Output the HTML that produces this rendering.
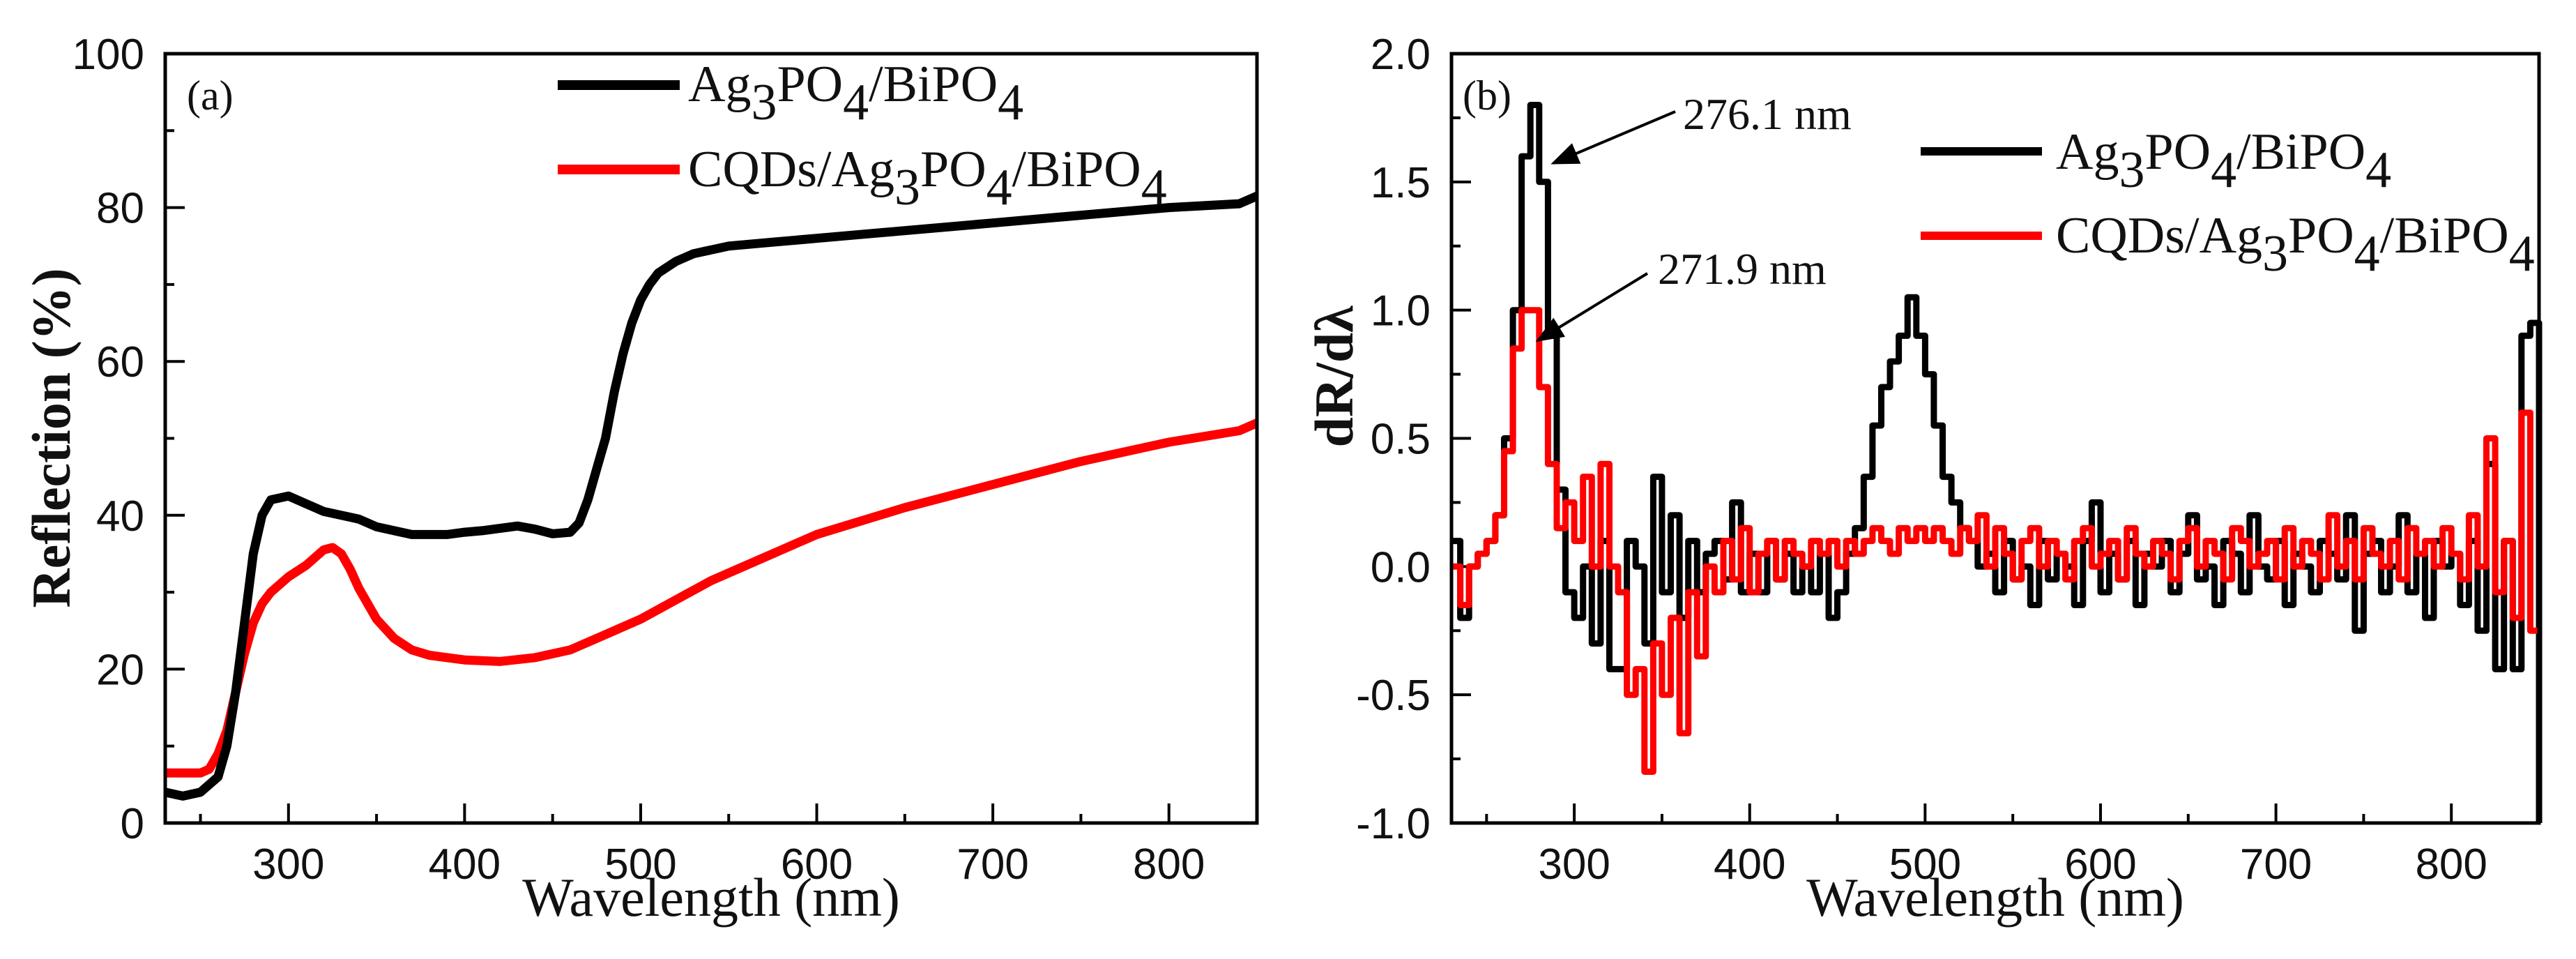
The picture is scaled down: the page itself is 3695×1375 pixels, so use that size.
<!DOCTYPE html>
<html><head><meta charset="utf-8"><style>
html,body{margin:0;padding:0;background:#fff;}
svg{display:block;}
.tick{font-family:"Liberation Sans",Arial,sans-serif;font-size:62px;fill:#111;}
.serif{font-family:"Liberation Serif","Times New Roman",serif;fill:#111;}
</style></head><body>
<svg id="fig" width="3695" height="1375" viewBox="0 0 3695 1375" xmlns="http://www.w3.org/2000/svg">
<g id="pa"></g>
<g id="pb"></g>
</svg>
<script>
// Panel (a) data
const aWl = [230,240,250,260,265,270,275,280,285,290,300,310,320,330,340,350,360,370,380,390,400,410,420,430,440,450,460,465,470,475,480,485,490,495,500,505,510,520,530,540,550,575,600,650,700,750,800,840,850];
const aBlack = [4,3.5,4,6,10,17,26,35,40,42,42.5,41.5,40.5,40,39.5,38.5,38,37.5,37.5,37.5,37.8,38,38.3,38.6,38.2,37.6,37.8,39,42,46,50,56,61,65,68,70,71.5,73,74,74.5,75,75.5,76,77,78,79,80,80.5,81.5];
const aRedWl = [230,250,255,260,265,270,275,280,285,290,300,310,320,325,330,335,340,350,360,370,380,400,420,440,460,480,500,520,540,560,580,600,650,700,750,800,840,850];
const aRed = [6.5,6.5,7,9,12,17,22,26,28.5,30,32,33.5,35.5,35.8,35,33,30.5,26.5,24,22.5,21.8,21.2,21,21.5,22.5,24.5,26.5,29,31.5,33.5,35.5,37.5,41,44,47,49.5,51,52];
const aYTicks = [0,20,40,60,80,100];
const xTicks = [300,400,500,600,700,800];

// Panel (b) data (5 nm steps from 230 to 850)
const bBlack = [0.1,-0.2,0,0.05,0.1,0.2,0.5,1.0,1.6,1.8,1.5,0.9,0.3,-0.1,-0.2,0.0,-0.3,0.1,-0.4,-0.4,0.1,0.0,-0.3,0.35,-0.1,0.2,-0.2,0.1,-0.1,0.05,0.1,-0.05,0.25,-0.1,0.05,-0.1,0.1,-0.05,0.05,-0.1,0.0,-0.1,0.05,-0.2,-0.1,0.05,0.15,0.35,0.55,0.7,0.8,0.9,1.05,0.9,0.75,0.55,0.35,0.25,0.15,0.1,0.0,0.05,-0.1,0.1,-0.05,0.0,-0.15,0.1,-0.05,0.05,0.0,-0.15,0.1,0.25,-0.1,0.05,-0.05,0.1,-0.15,0.05,0.0,0.1,-0.1,0.05,0.2,-0.05,0.0,-0.15,0.1,0.05,-0.1,0.2,0.0,-0.05,0.1,-0.15,0.05,0.0,-0.1,0.1,0.05,-0.05,0.2,-0.25,0.05,0.1,-0.1,0.0,0.2,-0.1,0.05,-0.2,0.1,0.0,0.05,-0.15,0.1,-0.25,0.4,-0.4,0.1,-0.4,0.9,0.95,-1.0];
const bRed = [0,-0.15,0,0.05,0.1,0.2,0.45,0.85,1.0,1.0,0.7,0.4,0.15,0.25,0.1,0.35,0.0,0.4,0.0,-0.1,-0.5,-0.4,-0.8,-0.3,-0.5,-0.2,-0.65,-0.1,-0.35,0.0,-0.1,0.1,-0.05,0.15,-0.1,0.05,0.1,-0.05,0.1,0.05,0.0,0.1,0.05,0.1,0.0,0.1,0.05,0.1,0.15,0.1,0.05,0.15,0.1,0.15,0.1,0.15,0.1,0.05,0.15,0.1,0.2,0.0,0.15,0.05,-0.05,0.1,0.15,0.0,0.1,0.05,-0.05,0.1,0.15,0.0,0.05,0.1,-0.05,0.15,0.05,0.0,0.1,0.05,-0.05,0.1,0.15,0.0,0.1,0.05,-0.05,0.15,0.1,0.0,0.05,0.1,-0.05,0.15,0.0,0.1,0.05,-0.05,0.2,0.0,0.1,-0.05,0.15,0.05,0.0,0.1,-0.05,0.15,0.05,0.1,0.0,0.15,0.05,-0.05,0.2,0.0,0.5,-0.1,0.1,-0.2,0.6,-0.25];
const bYTicks = [-1.0,-0.5,0.0,0.5,1.0,1.5,2.0];
const bStart = 230, bStep = 5;

const NS = "http://www.w3.org/2000/svg";
function mk(parent, tag, attrs){const e=document.createElementNS(NS,tag);for(const k in attrs)e.setAttribute(k,attrs[k]);parent.appendChild(e);return e;}

function axes(g, box, xmin, xmax, ymin, ymax, yTicks, yMinor, yFmt){
  const X=v=>box.l+(v-xmin)/(xmax-xmin)*(box.r-box.l);
  const Y=v=>box.b-(v-ymin)/(ymax-ymin)*(box.b-box.t);
  for(let v=250; v<=850; v+=50){
    const major = v%100===0;
    const t=mk(g,'line',{x1:X(v),x2:X(v),y1:box.b,y2:box.b-(major?28:13),stroke:'#000','stroke-width':4});
    
    
  }
  xTicks.forEach(v=>{
    const t=mk(g,'text',{x:X(v),y:1260,'text-anchor':'middle',class:'tick'});t.textContent=v;
    
    
  });
  for(let v=ymin; v<=ymax+1e-9; v+=yMinor){
    const major = yTicks.some(t=>Math.abs(t-v)<1e-6);
    const t=mk(g,'line',{x1:box.l,x2:box.l+(major?28:13),y1:Y(v),y2:Y(v),stroke:'#000','stroke-width':4});
    
    
  }
  yTicks.forEach(v=>{
    const t=mk(g,'text',{x:box.l-30,y:Y(v)+22,'text-anchor':'end',class:'tick'});t.textContent=yFmt(v);
    
    
  });
  return {X,Y};
}
function frame(g, box){
  const r=mk(g,'rect',{x:box.l,y:box.t,width:box.r-box.l,height:box.b-box.t,fill:'none',stroke:'#000','stroke-width':5});
  
  
}
function line(g, pts, color, w, name){
  const p=mk(g,'polyline',{points:pts.map(q=>q[0].toFixed(1)+','+q[1].toFixed(1)).join(' '),fill:'none',stroke:color,'stroke-width':w,'stroke-linejoin':'round'});
  
  
}
function legendText(g, x, y, parts, name){
  const t=mk(g,'text',{x:x,y:y,class:'serif','font-size':74});
  
  
  parts.forEach(p=>{
    const s=mk(t,'tspan',{});
    if(p[1]){s.setAttribute('dy','26');}
    else if(p[2]){s.setAttribute('dy','-26');}
    s.textContent=p[0];
  });
}
const PART_A=[['Ag'],['3',1],['PO',0,1],['4',1],['/BiPO',0,1],['4',1]];
const PART_B=[['CQDs/Ag'],['3',1],['PO',0,1],['4',1],['/BiPO',0,1],['4',1]];

// Panel a
const ga=document.getElementById('pa');
const boxA={l:237,r:1803,t:77,b:1180};
const A=axes(ga,boxA,230,850,0,100,aYTicks,10,v=>String(v));
line(ga, aRedWl.map((w,i)=>[A.X(w),A.Y(aRed[i])]), '#ff0000', 13, 'series-cqds-ag3po4-bipo4');
line(ga, aWl.map((w,i)=>[A.X(w),A.Y(aBlack[i])]), '#000', 13, 'series-ag3po4-bipo4');
frame(ga,boxA);
let t=mk(ga,'text',{x:268,y:157,class:'serif','font-size':60});t.textContent='(a)';

let l=mk(ga,'line',{x1:800,x2:975,y1:122,y2:122,stroke:'#000','stroke-width':14});

legendText(ga,987,145,PART_A,'legend-entry-ag3po4-bipo4');
l=mk(ga,'line',{x1:800,x2:975,y1:243,y2:243,stroke:'#f00','stroke-width':14});

legendText(ga,987,267,PART_B,'legend-entry-cqds');
t=mk(ga,'text',{x:1020,y:1313,'text-anchor':'middle',class:'serif','font-size':78});t.textContent='Wavelength (nm)';

t=mk(ga,'text',{x:0,y:0,'text-anchor':'middle',class:'serif','font-size':78,'font-weight':'bold',transform:'translate(100,628) rotate(-90)'});t.textContent='Reflection (%)';


// Panel b
const gb=document.getElementById('pb');
const boxB={l:2082,r:3642,t:77,b:1180};
const B=axes(gb,boxB,230,850,-1,2,bYTicks,0.25,v=>v.toFixed(1));
function stepPts(arr){const pts=[];arr.forEach((v,i)=>{const w0=bStart+i*bStep;const w1=Math.min(850,w0+bStep);pts.push([B.X(w0),B.Y(v)]);pts.push([B.X(w1),B.Y(v)]);});return pts;}
line(gb, stepPts(bBlack), '#000', 9, 'series-b-ag3po4-bipo4');
line(gb, stepPts(bRed), '#ff0000', 9, 'series-b-cqds');
frame(gb,boxB);
t=mk(gb,'text',{x:2098,y:157,class:'serif','font-size':60});t.textContent='(b)';

t=mk(gb,'text',{x:2414,y:185,class:'serif','font-size':64});t.textContent='276.1 nm';

t=mk(gb,'text',{x:2378,y:407,class:'serif','font-size':64});t.textContent='271.9 nm';

const defs=mk(gb,'defs',{});
const mkr=mk(defs,'marker',{id:'ah',refX:9,refY:4,orient:'auto',markerUnits:'userSpaceOnUse'});
mkr.setAttribute('viewBox','0 0 10 8');mkr.setAttribute('markerWidth','40');mkr.setAttribute('markerHeight','32');
mk(mkr,'path',{d:'M0,0 L10,4 L0,8 z',fill:'#000'});
l=mk(gb,'line',{x1:2403,y1:160,x2:2228,y2:234,stroke:'#000','stroke-width':4,'marker-end':'url(#ah)'});

l=mk(gb,'line',{x1:2363,y1:392,x2:2206,y2:488,stroke:'#000','stroke-width':4,'marker-end':'url(#ah)'});

l=mk(gb,'line',{x1:2755,x2:2929,y1:217,y2:217,stroke:'#000','stroke-width':12});

legendText(gb,2949,242,PART_A,'legend-entry-b-ag3po4-bipo4');
l=mk(gb,'line',{x1:2755,x2:2929,y1:338,y2:338,stroke:'#f00','stroke-width':12});

legendText(gb,2949,362,PART_B,'legend-entry-b-cqds');
t=mk(gb,'text',{x:2862,y:1313,'text-anchor':'middle',class:'serif','font-size':78});t.textContent='Wavelength (nm)';

t=mk(gb,'text',{x:0,y:0,'text-anchor':'middle',class:'serif','font-size':78,'font-weight':'bold',transform:'translate(1940,540) rotate(-90)'});t.textContent='dR/dλ';

</script>
</body></html>
